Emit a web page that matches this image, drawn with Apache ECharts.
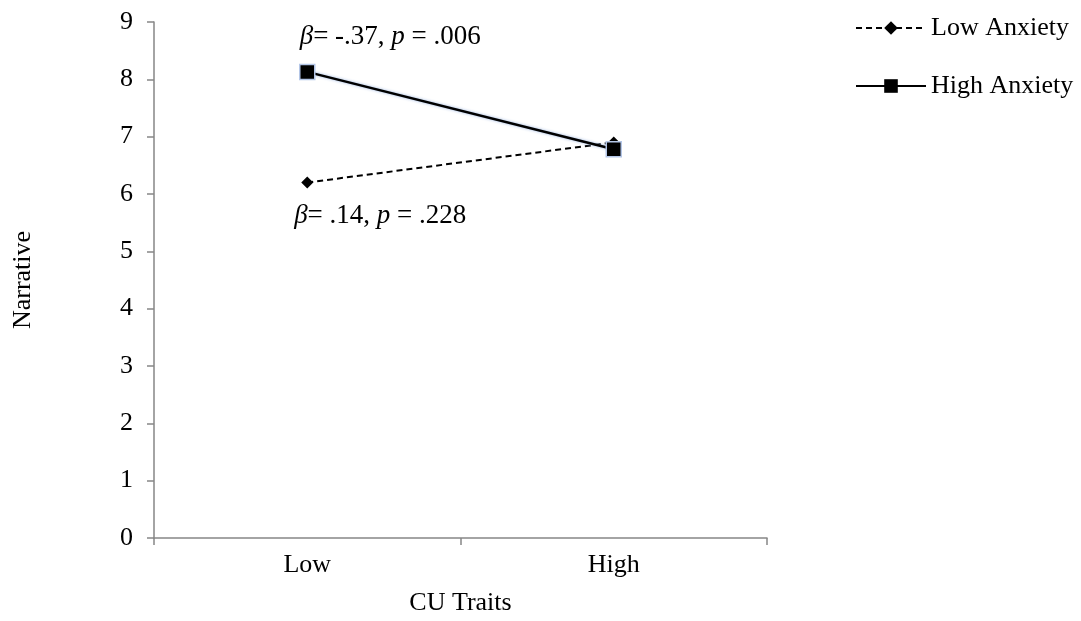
<!DOCTYPE html>
<html><head><meta charset="utf-8">
<script src="https://cdn.jsdelivr.net/npm/echarts@6/dist/echarts.min.js"></script>
<style>html,body{margin:0;padding:0;background:#fff}#c{width:1081px;height:621px}</style>
</head><body><div id="c"></div>
<script>
const categories = ['Low', 'High'];
const lowAnxiety = [6.2, 6.9];
const highAnxiety = [8.13, 6.78];
const yTicks = [0, 1, 2, 3, 4, 5, 6, 7, 8, 9];
const annotHigh = '{i|β}= -.37, {i|p} = .006';
const annotLow = '{i|β}= .14, {i|p} = .228';

const font = '"Liberation Serif", "Times New Roman", serif';
const rich = { i: { fontStyle: 'italic', fontFamily: font, fontSize: 27, color: '#000' } };
const chart = echarts.init(document.getElementById('c'));
chart.setOption({
  animation: false,
  textStyle: { fontFamily: font, color: '#000' },
  grid: { left: 154, right: 314, top: 22, bottom: 83 },
  legend: {
    orient: 'vertical', left: 850, top: 10, itemGap: 32, itemWidth: 70, itemHeight: 17,
    textStyle: { fontFamily: font, fontSize: 26, color: '#000' },
    data: [
      { name: 'Low Anxiety' },
      { name: 'High Anxiety', itemStyle: { borderWidth: 0 } }
    ]
  },
  xAxis: {
    type: 'category', data: categories, boundaryGap: true,
    name: 'CU Traits', nameLocation: 'middle', nameGap: 52,
    nameTextStyle: { fontFamily: font, fontSize: 26, color: '#000' },
    axisLine: { lineStyle: { color: '#868686', width: 1.5 } },
    axisTick: { show: true, length: 7, lineStyle: { color: '#868686', width: 1.5 } },
    axisLabel: { fontFamily: font, fontSize: 26, color: '#000', margin: 14 }
  },
  yAxis: {
    type: 'value', min: yTicks[0], max: yTicks[yTicks.length - 1], interval: 1,
    name: 'Narrative', nameLocation: 'middle', nameGap: 118, nameRotate: 90,
    nameTextStyle: { fontFamily: font, fontSize: 26, color: '#000' },
    axisLine: { show: true, lineStyle: { color: '#868686', width: 1.5 } },
    axisTick: { show: true, length: 7, lineStyle: { color: '#868686', width: 1.5 } },
    splitLine: { show: false },
    axisLabel: { fontFamily: font, fontSize: 26, color: '#000', margin: 21 }
  },
  series: [
    {
      name: 'Low Anxiety', type: 'line', data: lowAnxiety,
      symbol: 'diamond', symbolSize: 12,
      lineStyle: { color: '#000', width: 2, type: [6, 4] },
      itemStyle: { color: '#000' },
      z: 3,
      label: {
        show: true, position: 'bottom', distance: 5, offset: [73, 9],
        fontFamily: font, fontSize: 27, color: '#000', rich: rich,
        formatter: p => p.dataIndex === 0 ? annotLow : ''
      }
    },
    {
      name: 'High Anxiety', type: 'line', data: highAnxiety,
      symbol: 'rect', symbolSize: 15,
      lineStyle: { color: '#000', width: 2.5, shadowColor: 'rgba(140,170,220,0.9)', shadowBlur: 3 },
      itemStyle: { color: '#000', borderColor: '#b4c6e7', borderWidth: 1.5 },
      z: 4,
      label: {
        show: true, position: 'top', distance: 5, offset: [83, -8],
        fontFamily: font, fontSize: 27, color: '#000', rich: rich,
        formatter: p => p.dataIndex === 0 ? annotHigh : ''
      }
    }
  ]
});
</script></body></html>
